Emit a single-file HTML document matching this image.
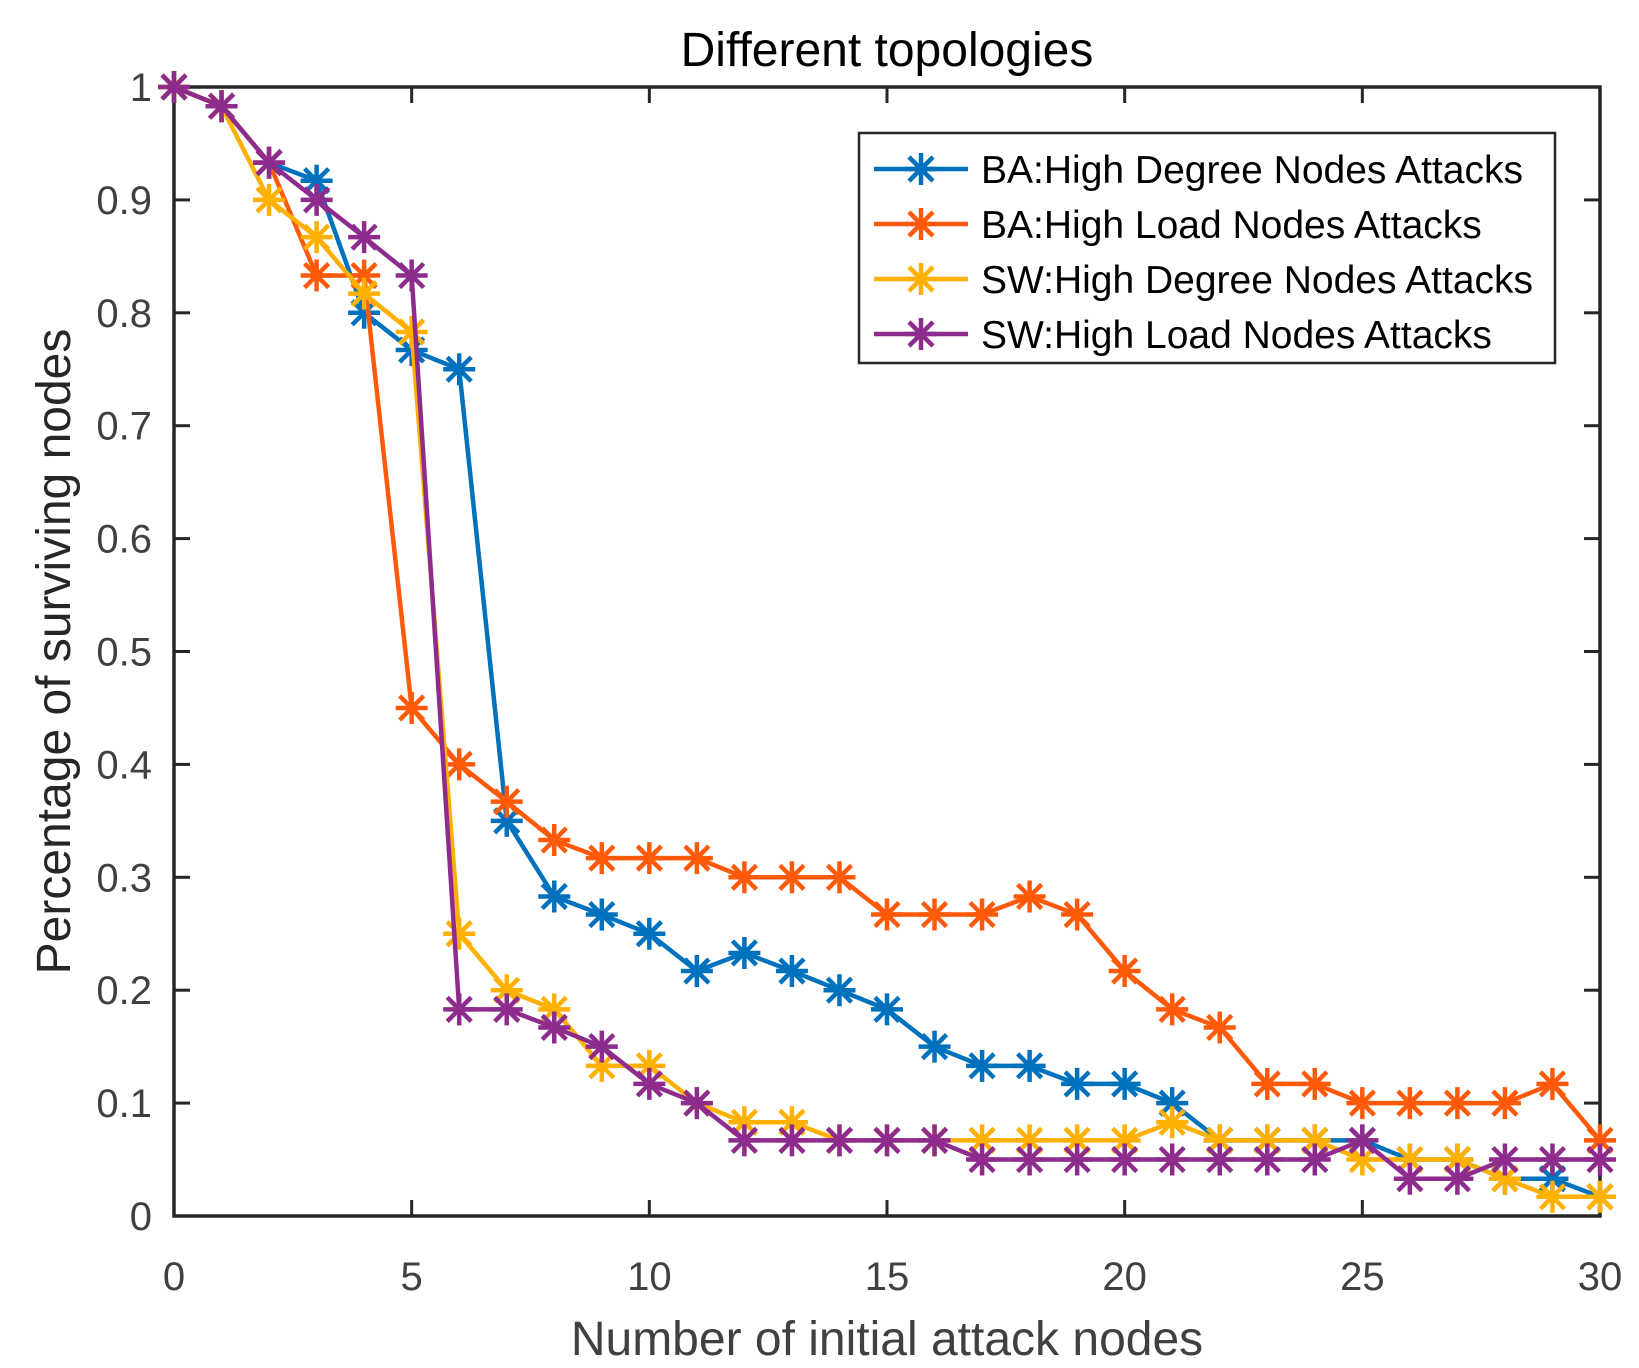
<!DOCTYPE html>
<html><head><meta charset="utf-8"><style>
body{margin:0;background:#fff}
svg{display:block;font-family:"Liberation Sans",Arial,sans-serif}
</style></head><body>
<svg id="chart" width="1639" height="1368" viewBox="0 0 1639 1368"></svg>
<script>
const xTicks=[0,5,10,15,20,25,30];
const yTicks=[0,0.1,0.2,0.3,0.4,0.5,0.6,0.7,0.8,0.9,1];
const yTickLabels=["0","0.1","0.2","0.3","0.4","0.5","0.6","0.7","0.8","0.9","1"];
const seriesNames=["BA:High Degree Nodes Attacks","BA:High Load Nodes Attacks","SW:High Degree Nodes Attacks","SW:High Load Nodes Attacks"];
const baDegree=[1,0.983,0.933,0.917,0.8,0.767,0.75,0.35,0.283,0.267,0.25,0.217,0.233,0.217,0.2,0.183,0.15,0.133,0.133,0.117,0.117,0.1,0.067,0.067,0.067,0.067,0.05,0.05,0.033,0.033,0.017];
const baLoad=[1,0.983,0.933,0.833,0.833,0.45,0.4,0.367,0.333,0.317,0.317,0.317,0.3,0.3,0.3,0.267,0.267,0.267,0.283,0.267,0.217,0.183,0.167,0.117,0.117,0.1,0.1,0.1,0.1,0.117,0.067];
const swDegree=[1,0.983,0.9,0.867,0.817,0.783,0.25,0.2,0.183,0.133,0.133,0.1,0.083,0.083,0.067,0.067,0.067,0.067,0.067,0.067,0.067,0.083,0.067,0.067,0.067,0.05,0.05,0.05,0.033,0.017,0.017];
const swLoad=[1,0.983,0.933,0.9,0.867,0.833,0.183,0.183,0.167,0.15,0.117,0.1,0.067,0.067,0.067,0.067,0.067,0.05,0.05,0.05,0.05,0.05,0.05,0.05,0.05,0.067,0.033,0.033,0.05,0.05,0.05];
const colors=["#0072BD","#FF5A0A","#FFB000","#8E2C8E"];

const L=174,R=1600,T=87,B=1216;
const sx=v=>L+(R-L)*v/30, sy=v=>B-(B-T)*v;
const svg=document.getElementById('chart');
const NS='http://www.w3.org/2000/svg';
function mk(tag,attrs,parent){const e=document.createElementNS(NS,tag);for(const k in attrs)e.setAttribute(k,attrs[k]);(parent||svg).appendChild(e);return e;}

const box=mk('rect',{x:L,y:T,width:R-L,height:B-T,fill:'#fff',stroke:'#262626','stroke-width':3.5});



xTicks.forEach(v=>{
  const x=sx(v);
  mk('line',{x1:x,y1:B,x2:x,y2:B-16,stroke:'#262626','stroke-width':3});
  mk('line',{x1:x,y1:T,x2:x,y2:T+16,stroke:'#262626','stroke-width':3});
  const t=mk('text',{x:x,y:1290,'text-anchor':'middle','font-size':40,fill:'#404040'});t.textContent=v;
  
  
});
yTicks.forEach((v,i)=>{
  const y=sy(v);
  mk('line',{x1:L,y1:y,x2:L+16,y2:y,stroke:'#262626','stroke-width':3});
  mk('line',{x1:R,y1:y,x2:R-16,y2:y,stroke:'#262626','stroke-width':3});
  const t=mk('text',{x:152,y:y+14,'text-anchor':'end','font-size':40,fill:'#404040'});t.textContent=yTickLabels[i];
  
  
});

const title=mk('text',{x:(L+R)/2,y:66,'text-anchor':'middle','font-size':48,fill:'#000'});title.textContent='Different topologies';


const xt=mk('text',{x:(L+R)/2,y:1355,'text-anchor':'middle','font-size':48,fill:'#404040'});xt.textContent='Number of initial attack nodes';


const yt=mk('text',{x:0,y:0,'text-anchor':'middle','font-size':48,fill:'#262626',transform:'translate(70,'+((T+B)/2)+') rotate(-90)'});yt.textContent='Percentage of surviving nodes';



function star(g,x,y,c,r){
  const h=r, d=r*0.75;
  mk('path',{d:`M${x-h} ${y}H${x+h}M${x} ${y-h}V${y+h}M${x-d} ${y-d}L${x+d} ${y+d}M${x-d} ${y+d}L${x+d} ${y-d}`,stroke:c,'stroke-width':4.5,fill:'none'},g);
}
const all=[baDegree,baLoad,swDegree,swLoad];
all.forEach((data,si)=>{
  const g=mk('g',{});
  
  
  mk('polyline',{points:data.map((v,i)=>sx(i)+','+sy(v)).join(' '),fill:'none',stroke:colors[si],'stroke-width':4.5,'stroke-linejoin':'round'},g);
  data.forEach((v,i)=>star(g,sx(i),sy(v),colors[si],16));
});

const lg=mk('g',{});


mk('rect',{x:859,y:133,width:696,height:230,fill:'#fff',stroke:'#262626','stroke-width':2.5},lg);
seriesNames.forEach((n,i)=>{
  const y=169+i*55;
  const e=mk('g',{},lg);
  
  
  mk('line',{x1:874,y1:y,x2:968,y2:y,stroke:colors[i],'stroke-width':4.5},e);
  star(e,921,y,colors[i],16);
  const t=mk('text',{x:981,y:y+14,'font-size':39,fill:'#000'},e);t.textContent=n;
});
</script>
</body></html>
